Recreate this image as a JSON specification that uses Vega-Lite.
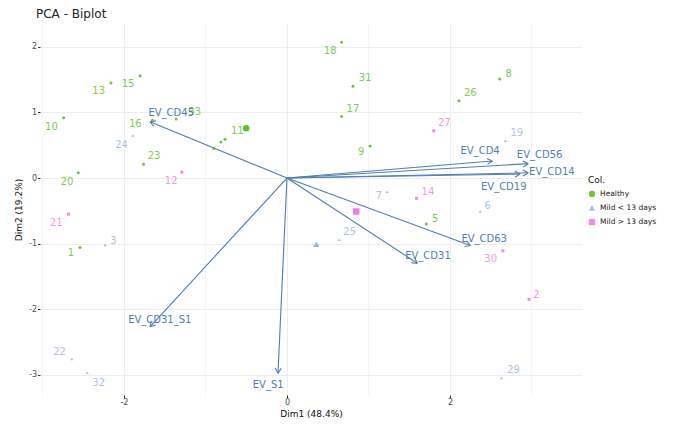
{
  "$schema": "https://vega.github.io/schema/vega-lite/v6.json",
  "width": 542,
  "height": 371,
  "autosize": {"type": "none"},
  "padding": {"left": 40, "top": 24, "right": 99, "bottom": 31},
  "background": "white",
  "title": {"text": "PCA - Biplot", "anchor": "start", "frame": "group", "fontSize": 12, "fontWeight": "normal", "font": "DejaVu Sans", "color": "#222222", "offset": 3, "dx": -4},
  "config": {
    "view": {"stroke": null},
    "font": "DejaVu Sans",
    "axis": {"domain": false, "labelFontSize": 8, "labelColor": "#4d4d4d", "titleFontSize": 9, "titleFontWeight": "normal", "titleColor": "#111111", "tickSize": 2.5, "tickColor": "#333333", "gridColor": "#ebebeb"},
    "legend": {"titleFontSize": 9, "titleFontWeight": "normal", "titleColor": "#111111", "labelFontSize": 7.5, "labelColor": "#222222", "symbolSize": 40, "rowPadding": 6}
  },
  "datasets": {
    "pts": [
      {"id": "18", "lab": "18", "group": "Healthy", "x": 0.67, "y": 2.07, "lx": 0.53, "ly": 1.94},
      {"id": "31", "lab": "31", "group": "Healthy", "x": 0.81, "y": 1.40, "lx": 0.96, "ly": 1.52},
      {"id": "17", "lab": "17", "group": "Healthy", "x": 0.67, "y": 0.94, "lx": 0.81, "ly": 1.05},
      {"id": "9", "lab": "9", "group": "Healthy", "x": 1.02, "y": 0.49, "lx": 0.91, "ly": 0.39},
      {"id": "26", "lab": "26", "group": "Healthy", "x": 2.11, "y": 1.18, "lx": 2.25, "ly": 1.29},
      {"id": "8", "lab": "8", "group": "Healthy", "x": 2.61, "y": 1.51, "lx": 2.72, "ly": 1.59},
      {"id": "5", "lab": "5", "group": "Healthy", "x": 1.71, "y": -0.70, "lx": 1.82, "ly": -0.63},
      {"id": "13", "lab": "13", "group": "Healthy", "x": -2.16, "y": 1.45, "lx": -2.31, "ly": 1.33},
      {"id": "15", "lab": "15", "group": "Healthy", "x": -1.80, "y": 1.56, "lx": -1.95, "ly": 1.44},
      {"id": "10", "lab": "10", "group": "Healthy", "x": -2.74, "y": 0.92, "lx": -2.89, "ly": 0.78},
      {"id": "16", "lab": "16", "group": "Healthy", "x": -1.65, "y": 0.88, "lx": -1.86, "ly": 0.82},
      {"id": "33", "lab": "33", "group": "Healthy", "x": -1.36, "y": 0.90, "lx": -1.13, "ly": 1.01},
      {"id": "23", "lab": "23", "group": "Healthy", "x": -1.76, "y": 0.21, "lx": -1.63, "ly": 0.33},
      {"id": "20", "lab": "20", "group": "Healthy", "x": -2.56, "y": 0.08, "lx": -2.70, "ly": -0.06},
      {"id": "11", "lab": "11", "group": "Healthy", "x": -0.76, "y": 0.59, "lx": -0.61, "ly": 0.71},
      {"id": "4", "lab": "", "group": "Healthy", "x": -0.81, "y": 0.55, "lx": -0.81, "ly": 0.55},
      {"id": "28", "lab": "", "group": "Healthy", "x": -0.90, "y": 0.45, "lx": -0.90, "ly": 0.45},
      {"id": "1", "lab": "1", "group": "Healthy", "x": -2.54, "y": -1.06, "lx": -2.65, "ly": -1.15},
      {"id": "19", "lab": "19", "group": "Mild < 13 days", "x": 2.68, "y": 0.57, "lx": 2.82, "ly": 0.68},
      {"id": "7", "lab": "7", "group": "Mild < 13 days", "x": 1.23, "y": -0.21, "lx": 1.13, "ly": -0.28},
      {"id": "6", "lab": "6", "group": "Mild < 13 days", "x": 2.37, "y": -0.51, "lx": 2.46, "ly": -0.43},
      {"id": "25", "lab": "25", "group": "Mild < 13 days", "x": 0.64, "y": -0.94, "lx": 0.77, "ly": -0.83},
      {"id": "29", "lab": "29", "group": "Mild < 13 days", "x": 2.63, "y": -3.05, "lx": 2.78, "ly": -2.93},
      {"id": "24", "lab": "24", "group": "Mild < 13 days", "x": -1.89, "y": 0.65, "lx": -2.03, "ly": 0.50},
      {"id": "3", "lab": "3", "group": "Mild < 13 days", "x": -2.23, "y": -1.02, "lx": -2.13, "ly": -0.96},
      {"id": "22", "lab": "22", "group": "Mild < 13 days", "x": -2.64, "y": -2.76, "lx": -2.79, "ly": -2.66},
      {"id": "32", "lab": "32", "group": "Mild < 13 days", "x": -2.45, "y": -2.97, "lx": -2.31, "ly": -3.12},
      {"id": "27", "lab": "27", "group": "Mild > 13 days", "x": 1.80, "y": 0.72, "lx": 1.93, "ly": 0.84},
      {"id": "14", "lab": "14", "group": "Mild > 13 days", "x": 1.59, "y": -0.31, "lx": 1.73, "ly": -0.21},
      {"id": "30", "lab": "30", "group": "Mild > 13 days", "x": 2.65, "y": -1.11, "lx": 2.50, "ly": -1.24},
      {"id": "2", "lab": "2", "group": "Mild > 13 days", "x": 2.97, "y": -1.85, "lx": 3.06, "ly": -1.78},
      {"id": "12", "lab": "12", "group": "Mild > 13 days", "x": -1.29, "y": 0.09, "lx": -1.42, "ly": -0.05},
      {"id": "21", "lab": "21", "group": "Mild > 13 days", "x": -2.68, "y": -0.55, "lx": -2.83, "ly": -0.68}
    ],
    "means": [
      {"group": "Healthy", "x": -0.50, "y": 0.76},
      {"group": "Mild < 13 days", "x": 0.36, "y": -1.01},
      {"group": "Mild > 13 days", "x": 0.85, "y": -0.51}
    ],
    "vars": [
      {"name": "EV_CD45", "x": -1.68, "y": 0.86, "lx": -1.42, "ly": 0.99, "w1x": -1.607, "w1y": 0.872, "w2x": -1.635, "w2y": 0.787},
      {"name": "EV_CD4", "x": 2.52, "y": 0.26, "lx": 2.37, "ly": 0.41, "w1x": 2.4595, "w1y": 0.2078, "w2x": 2.4535, "w2y": 0.2991},
      {"name": "EV_CD56", "x": 2.96, "y": 0.22, "lx": 3.10, "ly": 0.35, "w1x": 2.8985, "w1y": 0.1696, "w2x": 2.8941, "w2y": 0.2610},
      {"name": "EV_CD14", "x": 2.96, "y": 0.08, "lx": 3.25, "ly": 0.09, "w1x": 2.8971, "w1y": 0.0325, "w2x": 2.8955, "w2y": 0.1241},
      {"name": "EV_CD19", "x": 2.86, "y": 0.06, "lx": 2.66, "ly": -0.14, "w1x": 2.7968, "w1y": 0.0129, "w2x": 2.7956, "w2y": 0.1045},
      {"name": "EV_CD63", "x": 2.25, "y": -1.03, "lx": 2.42, "ly": -0.93, "w1x": 2.1775, "w1y": -1.0456, "w2x": 2.2029, "w2y": -0.9596},
      {"name": "EV_CD31", "x": 1.60, "y": -1.30, "lx": 1.73, "ly": -1.19, "w1x": 1.5265, "w1y": -1.2949, "w2x": 1.5668, "w2y": -1.2183},
      {"name": "EV_CD31_S1", "x": -1.68, "y": -2.27, "lx": -1.56, "ly": -2.17, "w1x": -1.6639, "w1y": -2.1806, "w2x": -1.6097, "w2y": -2.2427},
      {"name": "EV_S1", "x": -0.11, "y": -2.98, "lx": -0.23, "ly": -3.15, "w1x": -0.1439, "w1y": -2.8986, "w2x": -0.0703, "w2y": -2.9029}
    ]
  },
  "encoding": {
    "x": {"type": "quantitative"},
    "y": {"type": "quantitative"}
  },
  "layer": [
    {
      "data": {"name": "means"},
      "mark": {"type": "point", "opacity": 0},
      "encoding": {
        "x": {"field": "x", "type": "quantitative", "scale": {"domain": [-3.03, 3.62], "nice": false, "zero": false},
          "axis": {"title": "Dim1 (48.4%)", "values": [-3, -2, -1, 0, 1, 2, 3], "labelExpr": "datum.value % 2 == 0 ? '' + datum.value : ''", "tickOpacity": {"condition": {"test": "datum.value % 2 != 0", "value": 0}, "value": 1}, "gridWidth": {"condition": {"test": "datum.value % 2 != 0", "value": 0.5}, "value": 0.9}, "labelPadding": 1, "titlePadding": 3}},
        "y": {"field": "y", "type": "quantitative", "scale": {"domain": [-3.31, 2.35], "nice": false, "zero": false},
          "axis": {"title": "Dim2 (19.2%)", "values": [-3, -2.5, -2, -1.5, -1, -0.5, 0, 0.5, 1, 1.5, 2], "labelExpr": "datum.value % 1 == 0 ? '' + datum.value : ''", "tickOpacity": {"condition": {"test": "datum.value % 1 != 0", "value": 0}, "value": 1}, "gridWidth": {"condition": {"test": "datum.value % 1 != 0", "value": 0.5}, "value": 0.9}, "labelPadding": 1, "titlePadding": 5}}
      }
    },
    {
      "mark": {"type": "rule", "color": "#111111", "strokeDash": [4, 3], "strokeWidth": 1.4},
      "encoding": {"x": {"datum": 0}}
    },
    {
      "mark": {"type": "rule", "color": "#111111", "strokeDash": [4, 3], "strokeWidth": 1.4},
      "encoding": {"y": {"datum": 0}}
    },
    {
      "data": {"name": "vars"},
      "mark": {"type": "rule", "color": "#4f7fb0", "strokeWidth": 1.1},
      "encoding": {
        "x": {"field": "x", "type": "quantitative"},
        "y": {"field": "y", "type": "quantitative"},
        "x2": {"datum": 0},
        "y2": {"datum": 0}
      }
    },
    {
      "data": {"name": "vars"},
      "mark": {"type": "rule", "color": "#4f7fb0", "strokeWidth": 1.1},
      "encoding": {
        "x": {"field": "x", "type": "quantitative"},
        "y": {"field": "y", "type": "quantitative"},
        "x2": {"field": "w1x"},
        "y2": {"field": "w1y"}
      }
    },
    {
      "data": {"name": "vars"},
      "mark": {"type": "rule", "color": "#4f7fb0", "strokeWidth": 1.1},
      "encoding": {
        "x": {"field": "x", "type": "quantitative"},
        "y": {"field": "y", "type": "quantitative"},
        "x2": {"field": "w2x"},
        "y2": {"field": "w2y"}
      }
    },
    {
      "data": {"name": "pts"},
      "mark": {"type": "point", "filled": true, "size": 9, "opacity": 0.9},
      "encoding": {
        "x": {"field": "x", "type": "quantitative"},
        "y": {"field": "y", "type": "quantitative"},
        "color": {"field": "group", "type": "nominal", "scale": {"domain": ["Healthy", "Mild < 13 days", "Mild > 13 days"], "range": ["#5fbf1f", "#9bb7dc", "#ee7ee6"]}, "legend": {"title": "Col.", "orient": "none", "legendX": 548, "legendY": 152}},
        "shape": {"field": "group", "type": "nominal", "scale": {"domain": ["Healthy", "Mild < 13 days", "Mild > 13 days"], "range": ["circle", "triangle-up", "square"]}, "legend": {"title": "Col.", "orient": "none", "legendX": 548, "legendY": 152}}
      }
    },
    {
      "data": {"name": "means"},
      "mark": {"type": "point", "filled": true, "size": 42, "opacity": 1},
      "encoding": {
        "x": {"field": "x", "type": "quantitative"},
        "y": {"field": "y", "type": "quantitative"},
        "color": {"field": "group", "type": "nominal"},
        "shape": {"field": "group", "type": "nominal"}
      }
    },
    {
      "data": {"name": "pts"},
      "mark": {"type": "text", "fontSize": 10, "opacity": 0.8, "align": "center", "baseline": "middle"},
      "encoding": {
        "x": {"field": "lx", "type": "quantitative"},
        "y": {"field": "ly", "type": "quantitative"},
        "text": {"field": "lab"},
        "color": {"field": "group", "type": "nominal", "legend": null}
      }
    },
    {
      "data": {"name": "vars"},
      "mark": {"type": "text", "fontSize": 10, "color": "#4f7fb0", "align": "center", "baseline": "middle"},
      "encoding": {
        "x": {"field": "lx", "type": "quantitative"},
        "y": {"field": "ly", "type": "quantitative"},
        "text": {"field": "name"}
      }
    }
  ]
}
